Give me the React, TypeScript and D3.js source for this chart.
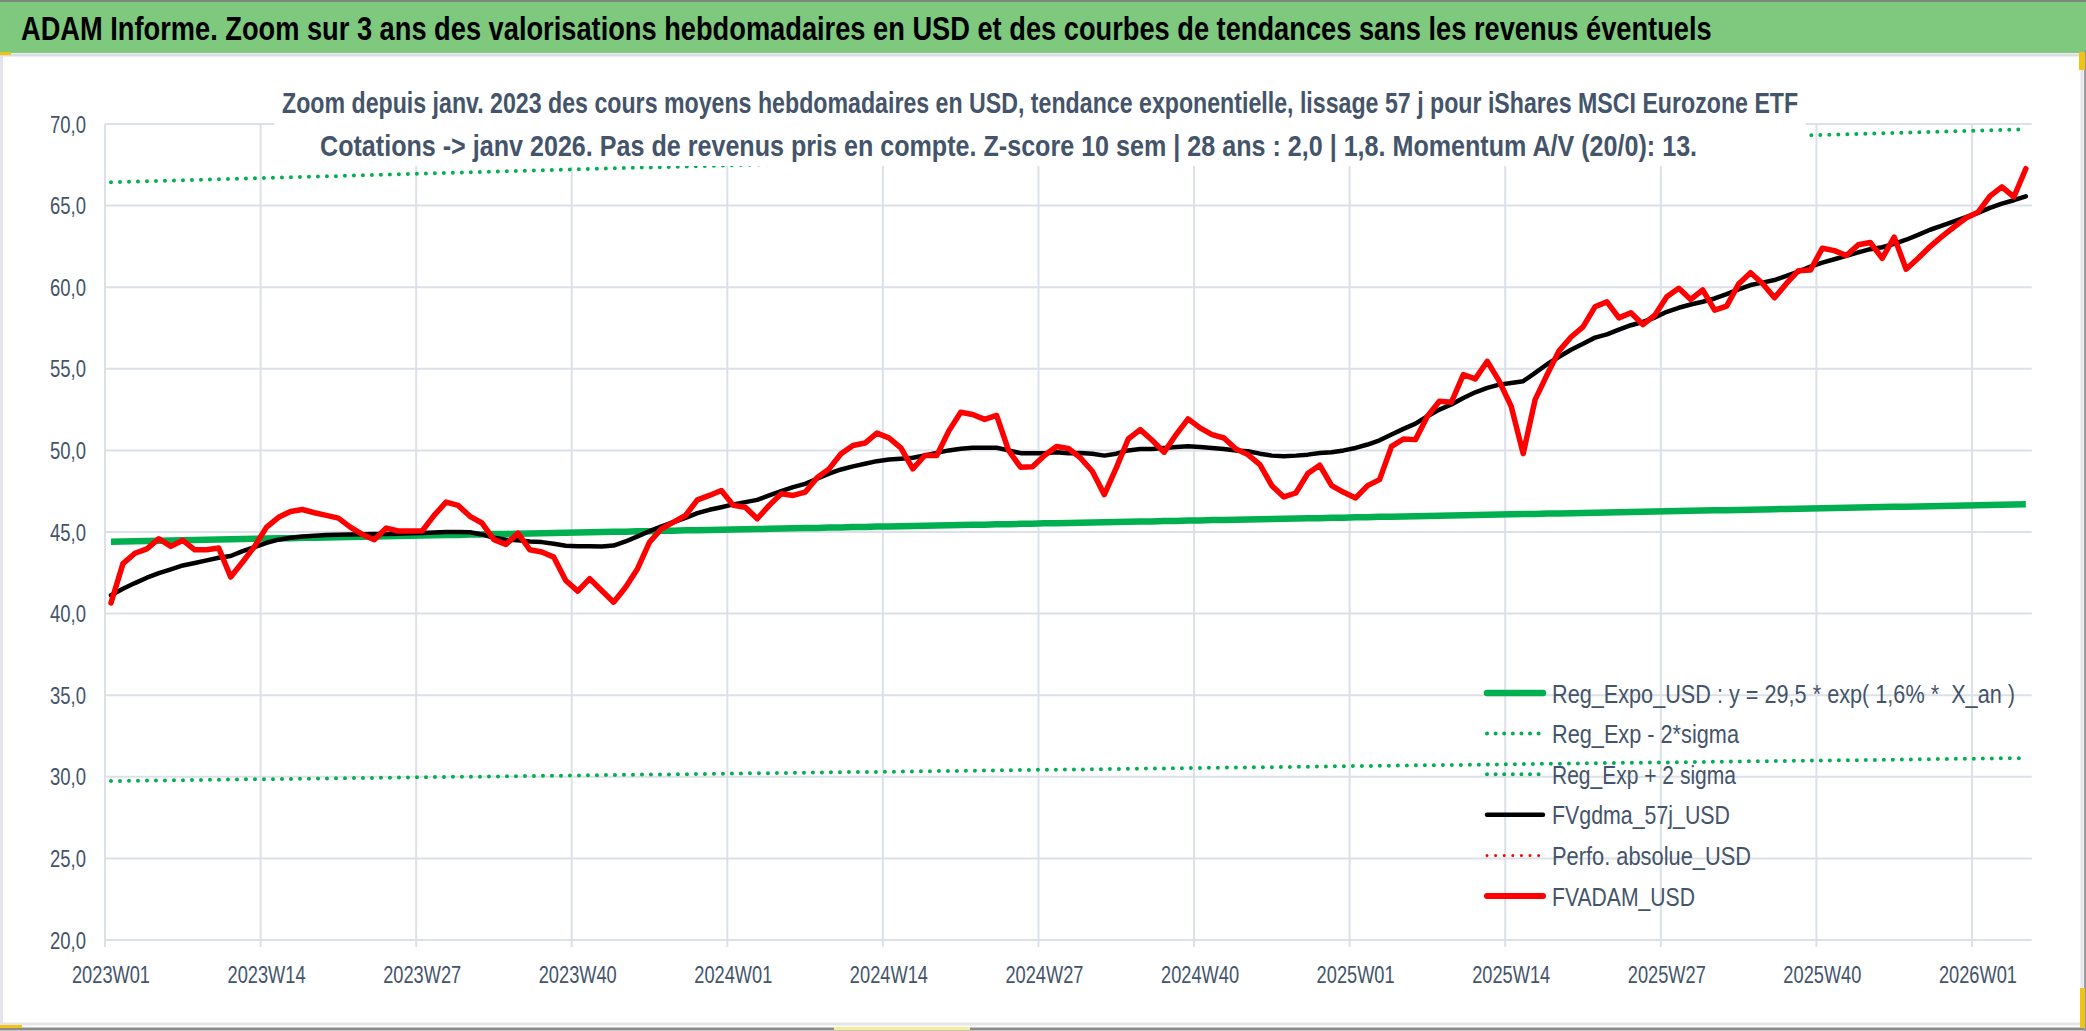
import React, { useLayoutEffect, useRef, useState } from 'react';
import * as d3 from 'd3';

const W = 2086;
const H = 1031;

// Categories (ISO weeks)
const years = [2023, 2024, 2025, 2026];
const weeksPerYear = [52, 52, 52, 5];
const categories: string[] = years.flatMap((y, k) =>
  d3.range(1, weeksPerYear[k] + 1).map((w) => `${y}W${String(w).padStart(2, '0')}`)
);
const tickLabels = [
  '2023W01', '2023W14', '2023W27', '2023W40', '2024W01', '2024W14', '2024W27',
  '2024W40', '2025W01', '2025W14', '2025W27', '2025W40', '2026W01',
];
const yTicks = [20, 25, 30, 35, 40, 45, 50, 55, 60, 65, 70];

// FVADAM_USD (red)
const fvadam = [
  40.65, 43.06, 43.7, 43.97, 44.59, 44.12, 44.49, 43.91, 43.91, 44.02,
  42.24, 43.16, 44.12, 45.3, 45.9, 46.26, 46.38, 46.18, 46.02, 45.85,
  45.3, 44.85, 44.53, 45.24, 45.06, 45.06, 45.06, 46.02, 46.83, 46.63,
  45.96, 45.55, 44.53, 44.24, 44.93, 43.91, 43.77, 43.46, 42.03, 41.38,
  42.14, 41.42, 40.7, 41.62, 42.75, 44.38, 45.2, 45.6, 46.01, 46.97,
  47.24, 47.54, 46.63, 46.52, 45.81, 46.63, 47.34, 47.24, 47.44, 48.32,
  48.87, 49.79, 50.3, 50.45, 51.06, 50.77, 50.16, 48.87, 49.69, 49.69,
  51.18, 52.34, 52.2, 51.9, 52.14, 50.0, 48.97, 49.0, 49.69, 50.24,
  50.12, 49.54, 48.72, 47.29, 48.93, 50.7, 51.27, 50.62, 49.89, 50.97,
  51.93, 51.38, 50.97, 50.76, 50.09, 49.74, 49.13, 47.84, 47.15, 47.39,
  48.58, 49.09, 47.84, 47.43, 47.09, 47.84, 48.21, 50.25, 50.7, 50.66,
  52.09, 53.01, 52.95, 54.64, 54.38, 55.46, 54.24, 52.7, 49.8, 53.11,
  54.64, 56.1, 56.95, 57.57, 58.8, 59.1, 58.12, 58.43, 57.71, 58.28,
  59.41, 59.93, 59.25, 59.83, 58.59, 58.84, 60.19, 60.89, 60.23, 59.35,
  60.23, 61.01, 61.05, 62.39, 62.24, 61.94, 62.6, 62.74, 61.77, 63.07,
  61.1, 61.77, 62.49, 63.11, 63.69, 64.24, 64.59, 65.58, 66.15, 65.53,
  67.26,
];

// FVgdma_57j_USD (black)
const fvgdma = [
  41.12, 41.52, 41.87, 42.2, 42.48, 42.71, 42.95, 43.1, 43.26, 43.42,
  43.53, 43.83, 44.08, 44.34, 44.53, 44.65, 44.73, 44.77, 44.81, 44.83,
  44.85, 44.86, 44.87, 44.88, 44.9, 44.92, 44.94, 44.97, 45.0, 45.0,
  44.98, 44.85, 44.65, 44.53, 44.49, 44.42, 44.38, 44.28, 44.16, 44.12,
  44.12, 44.11, 44.17, 44.42, 44.73, 45.05, 45.34, 45.6, 45.87, 46.16,
  46.36, 46.52, 46.69, 46.83, 46.97, 47.24, 47.5, 47.75, 47.95, 48.26,
  48.57, 48.83, 49.02, 49.18, 49.34, 49.44, 49.49, 49.55, 49.69, 49.85,
  50.0, 50.1, 50.16, 50.16, 50.16, 50.0, 49.83, 49.83, 49.83, 49.89,
  49.82, 49.84, 49.8, 49.68, 49.8, 50.0, 50.09, 50.09, 50.15, 50.21,
  50.25, 50.21, 50.15, 50.09, 50.0, 49.95, 49.8, 49.68, 49.64, 49.68,
  49.74, 49.84, 49.89, 50.0, 50.15, 50.36, 50.62, 50.97, 51.32, 51.64,
  52.09, 52.5, 52.81, 53.21, 53.56, 53.83, 54.03, 54.13, 54.24, 54.75,
  55.28, 55.74, 56.17, 56.54, 56.91, 57.11, 57.4, 57.67, 57.87, 58.14,
  58.49, 58.74, 58.94, 59.11, 59.31, 59.58, 59.87, 60.13, 60.28, 60.44,
  60.69, 60.95, 61.26, 61.51, 61.71, 61.92, 62.13, 62.33, 62.45, 62.66,
  62.91, 63.21, 63.52, 63.77, 64.03, 64.3, 64.55, 64.86, 65.12, 65.33,
  65.57,
];

// Reg_Expo_USD (green thick)
const regExpo = [
  44.41, 44.42, 44.44, 44.45, 44.47, 44.48, 44.5, 44.51, 44.52, 44.54,
  44.55, 44.57, 44.58, 44.6, 44.61, 44.62, 44.64, 44.65, 44.67, 44.68,
  44.7, 44.71, 44.72, 44.74, 44.75, 44.77, 44.78, 44.8, 44.81, 44.82,
  44.84, 44.85, 44.87, 44.88, 44.9, 44.91, 44.92, 44.94, 44.95, 44.97,
  44.98, 45.0, 45.01, 45.02, 45.04, 45.05, 45.07, 45.08, 45.1, 45.11,
  45.12, 45.14, 45.15, 45.17, 45.18, 45.2, 45.21, 45.23, 45.24, 45.25,
  45.27, 45.28, 45.3, 45.31, 45.33, 45.34, 45.35, 45.37, 45.38, 45.4,
  45.41, 45.43, 45.44, 45.45, 45.47, 45.48, 45.5, 45.51, 45.53, 45.54,
  45.55, 45.57, 45.58, 45.6, 45.61, 45.63, 45.64, 45.65, 45.67, 45.68,
  45.7, 45.71, 45.73, 45.74, 45.75, 45.77, 45.78, 45.8, 45.81, 45.83,
  45.84, 45.85, 45.87, 45.88, 45.9, 45.91, 45.93, 45.94, 45.95, 45.97,
  45.98, 46.0, 46.01, 46.03, 46.04, 46.05, 46.07, 46.08, 46.1, 46.11,
  46.13, 46.14, 46.15, 46.17, 46.18, 46.2, 46.21, 46.23, 46.24, 46.25,
  46.27, 46.28, 46.3, 46.31, 46.33, 46.34, 46.35, 46.37, 46.38, 46.4,
  46.41, 46.43, 46.44, 46.45, 46.47, 46.48, 46.5, 46.51, 46.53, 46.54,
  46.55, 46.57, 46.58, 46.6, 46.61, 46.63, 46.64, 46.65, 46.67, 46.68,
  46.7,
];

// Reg_Exp - 2*sigma (green dotted, lower)
const regMinus = [
  29.74, 29.75, 29.76, 29.77, 29.78, 29.78, 29.79, 29.8, 29.81, 29.82,
  29.83, 29.84, 29.85, 29.85, 29.86, 29.87, 29.88, 29.89, 29.9, 29.91,
  29.92, 29.92, 29.93, 29.94, 29.95, 29.96, 29.97, 29.98, 29.99, 30.0,
  30.0, 30.01, 30.02, 30.03, 30.04, 30.05, 30.06, 30.07, 30.07, 30.08,
  30.09, 30.1, 30.11, 30.12, 30.13, 30.14, 30.14, 30.15, 30.16, 30.17,
  30.18, 30.19, 30.2, 30.21, 30.22, 30.22, 30.23, 30.24, 30.25, 30.26,
  30.27, 30.28, 30.29, 30.29, 30.3, 30.31, 30.32, 30.33, 30.34, 30.35,
  30.36, 30.36, 30.37, 30.38, 30.39, 30.4, 30.41, 30.42, 30.43, 30.44,
  30.44, 30.45, 30.46, 30.47, 30.48, 30.49, 30.5, 30.51, 30.51, 30.52,
  30.53, 30.54, 30.55, 30.56, 30.57, 30.58, 30.58, 30.59, 30.6, 30.61,
  30.62, 30.63, 30.64, 30.65, 30.66, 30.66, 30.67, 30.68, 30.69, 30.7,
  30.71, 30.72, 30.73, 30.73, 30.74, 30.75, 30.76, 30.77, 30.78, 30.79,
  30.8, 30.8, 30.81, 30.82, 30.83, 30.84, 30.85, 30.86, 30.87, 30.88,
  30.88, 30.89, 30.9, 30.91, 30.92, 30.93, 30.94, 30.95, 30.95, 30.96,
  30.97, 30.98, 30.99, 31.0, 31.01, 31.02, 31.02, 31.03, 31.04, 31.05,
  31.06, 31.07, 31.08, 31.09, 31.1, 31.1, 31.11, 31.12, 31.13, 31.14,
  31.15,
];

// Reg_Exp + 2 sigma (green dotted, upper)
const regPlus = [
  66.43, 66.45, 66.47, 66.49, 66.51, 66.53, 66.55, 66.57, 66.59, 66.61,
  66.63, 66.65, 66.67, 66.69, 66.71, 66.73, 66.75, 66.77, 66.79, 66.81,
  66.84, 66.86, 66.88, 66.9, 66.92, 66.94, 66.96, 66.98, 67.0, 67.02,
  67.04, 67.06, 67.08, 67.1, 67.12, 67.14, 67.16, 67.18, 67.2, 67.22,
  67.24, 67.26, 67.28, 67.3, 67.32, 67.34, 67.36, 67.38, 67.4, 67.42,
  67.44, 67.46, 67.48, 67.5, 67.52, 67.54, 67.56, 67.58, 67.6, 67.62,
  67.65, 67.67, 67.69, 67.71, 67.73, 67.75, 67.77, 67.79, 67.81, 67.83,
  67.85, 67.87, 67.89, 67.91, 67.93, 67.95, 67.97, 67.99, 68.01, 68.03,
  68.05, 68.07, 68.09, 68.11, 68.13, 68.15, 68.17, 68.19, 68.21, 68.23,
  68.25, 68.27, 68.29, 68.31, 68.33, 68.35, 68.37, 68.39, 68.41, 68.43,
  68.46, 68.48, 68.5, 68.52, 68.54, 68.56, 68.58, 68.6, 68.62, 68.64,
  68.66, 68.68, 68.7, 68.72, 68.74, 68.76, 68.78, 68.8, 68.82, 68.84,
  68.86, 68.88, 68.9, 68.92, 68.94, 68.96, 68.98, 69.0, 69.02, 69.04,
  69.06, 69.08, 69.1, 69.12, 69.14, 69.16, 69.18, 69.2, 69.22, 69.24,
  69.27, 69.29, 69.31, 69.33, 69.35, 69.37, 69.39, 69.41, 69.43, 69.45,
  69.47, 69.49, 69.51, 69.53, 69.55, 69.57, 69.59, 69.61, 69.63, 69.65,
  69.67,
];

const title =
  'ADAM Informe. Zoom sur 3 ans des valorisations hebdomadaires en USD et des courbes de tendances sans les revenus éventuels';
const subtitle1 =
  'Zoom depuis janv. 2023 des cours moyens hebdomadaires en USD, tendance exponentielle, lissage 57 j pour iShares MSCI Eurozone ETF';
const subtitle2 =
  'Cotations -> janv 2026. Pas de revenus pris en compte. Z-score 10 sem | 28 ans : 2,0 | 1,8. Momentum A/V (20/0): 13.';

const legendItems = [
  { label: 'Reg_Expo_USD : y = 29,5 * exp( 1,6% *  X_an )', color: '#00B050', width: 6.5, dotted: false, len: 463 },
  { label: 'Reg_Exp - 2*sigma', color: '#00B050', width: 4, dotted: true, len: 187 },
  { label: 'Reg_Exp + 2 sigma', color: '#00B050', width: 4, dotted: true, len: 184 },
  { label: 'FVgdma_57j_USD', color: '#000000', width: 4.5, dotted: false, len: 178 },
  { label: 'Perfo. absolue_USD', color: '#FF0000', width: 3, dotted: true, len: 199 },
  { label: 'FVADAM_USD', color: '#FF0000', width: 6, dotted: false, len: 143 },
];

const FONT = "'Liberation Sans', Arial, sans-serif";
const TXT = '#44546A';
const GRID = '#DCE0E8';

// Text squeezed horizontally to a target width (condensed look of the original font)
function FitText(props: {
  x: number;
  y: number;
  len: number;
  anchor?: 'start' | 'middle' | 'end';
  size: number;
  weight?: string;
  fill: string;
  pre?: boolean;
  children: string;
}) {
  const ref = useRef<SVGTextElement>(null);
  const [sx, setSx] = useState(0.82);
  useLayoutEffect(() => {
    if (ref.current) {
      const n = ref.current.getComputedTextLength();
      if (n > 0) setSx(props.len / n);
    }
  }, [props.len, props.children, props.size]);
  return (
    <text
      ref={ref}
      transform={`translate(${props.x},${props.y}) scale(${sx},1)`}
      textAnchor={props.anchor || 'start'}
      fontSize={props.size}
      fontWeight={props.weight || 'normal'}
      fill={props.fill}
      style={props.pre ? { whiteSpace: 'pre' } : undefined}
    >
      {props.children}
    </text>
  );
}

export default function App() {
  const left = 105;
  const right = 2031.8;
  const top = 124;
  const bottom = 940;

  const x = d3.scaleBand<string>().domain(categories).range([left, right]).padding(0);
  const bw = x.bandwidth();
  const cx = (i: number) => (x(categories[i]) as number) + bw / 2;
  const y = d3.scaleLinear().domain([20, 70]).range([bottom, top]);

  const line = (vals: number[]) =>
    d3
      .line<number>()
      .x((_, i) => cx(i))
      .y((v) => y(v))(vals) as string;

  const legendTop = 693;
  const legendStep = 40.6;

  return (
    <svg
      width={W}
      height={H}
      viewBox={`0 0 ${W} ${H}`}
      style={{ position: 'absolute', left: 0, top: 0, display: 'block', background: '#fff' }}
      fontFamily={FONT}
    >
      <rect x={0} y={0} width={W} height={H} fill="#fff" />
      {/* title band */}
      <rect x={0} y={0} width={W} height={53} fill="#7EC97E" />
      <line x1={0} x2={W} y1={1} y2={1} stroke="#7a8a7a" strokeWidth={2} />
      <line x1={0} x2={W} y1={55} y2={55} stroke="#DADDE3" strokeWidth={3} />
      <FitText x={21} y={40} len={1690} size={33} weight="bold" fill="#000">
        {title}
      </FitText>

      {/* outer frame */}
      <line x1={1.5} x2={1.5} y1={56} y2={1026} stroke="#E3E5EA" strokeWidth={3} />
      <line x1={2082} x2={2082} y1={56} y2={1026} stroke="#E3E5EA" strokeWidth={3} />
      <line x1={0} x2={W} y1={1024} y2={1024} stroke="#E3E5EA" strokeWidth={3} />
      <line x1={0} x2={W} y1={1029} y2={1029} stroke="#8C8C8C" strokeWidth={3} />
      <line x1={2085} x2={2085} y1={50} y2={1031} stroke="#9A9A9A" strokeWidth={2} />
      <rect x={0} y={52} width={11} height={3} fill="#F2C314" />
      <rect x={2079} y={52} width={6} height={18} fill="#F2C314" />
      <rect x={2080} y={988} width={5} height={40} fill="#F2C314" />
      <rect x={0} y={1025} width={22} height={3} fill="#F2C314" />
      <rect x={834} y={1027} width={136} height={3} fill="#F7EC9A" />

      {/* gridlines */}
      {yTicks.map((t) => (
        <line key={`h${t}`} x1={left} x2={right} y1={y(t)} y2={y(t)} stroke={GRID} strokeWidth={2} />
      ))}
      {tickLabels.map((lab) => {
        const xx = x(lab) as number;
        return <line key={`v${lab}`} x1={xx} x2={xx} y1={top} y2={bottom + 7} stroke={GRID} strokeWidth={2} />;
      })}

      {/* y labels */}
      {yTicks.map((t) => (
        <FitText key={`yl${t}`} x={86} y={y(t) + 8.5} anchor="end" len={36} size={23.5} fill={TXT}>
          {d3.format('.1f')(t).replace('.', ',')}
        </FitText>
      ))}

      {/* x labels */}
      {tickLabels.map((lab) => (
        <FitText
          key={`xl${lab}`}
          x={(x(lab) as number) + bw / 2}
          y={983}
          anchor="middle"
          len={78}
          size={23}
          fill={TXT}
        >
          {lab}
        </FitText>
      ))}

      {/* series */}
      <path d={line(regExpo)} fill="none" stroke="#00B050" strokeWidth={6.5} strokeLinejoin="round" />
      <path
        d={line(regMinus)}
        fill="none"
        stroke="#00B050"
        strokeWidth={4}
        strokeDasharray="0 9"
        strokeLinecap="round"
      />
      <path
        d={line(regPlus)}
        fill="none"
        stroke="#00B050"
        strokeWidth={4}
        strokeDasharray="0 9"
        strokeLinecap="round"
      />
      <path d={line(fvgdma)} fill="none" stroke="#000" strokeWidth={4.5} strokeLinejoin="round" strokeLinecap="round" />
      <path d={line(fvadam)} fill="none" stroke="#FF0000" strokeWidth={5.5} strokeLinejoin="round" strokeLinecap="round" />

      {/* chart title box */}
      <rect x={274} y={64} width={1532} height={102} fill="#fff" />
      <FitText x={282} y={113} len={1516} size={30} weight="bold" fill={TXT}>
        {subtitle1}
      </FitText>
      <FitText x={320} y={156} len={1377} size={30} weight="bold" fill={TXT}>
        {subtitle2}
      </FitText>

      {/* legend */}
      {legendItems.map((it, k) => {
        const ly = legendTop + k * legendStep;
        return (
          <g key={it.label}>
            <line
              x1={1487}
              x2={1543}
              y1={ly}
              y2={ly}
              stroke={it.color}
              strokeWidth={it.width}
              strokeLinecap="round"
              strokeDasharray={it.dotted ? '0 8.6' : undefined}
            />
            <FitText x={1552} y={ly + 9.5} len={it.len} size={26} fill={TXT} pre>
              {it.label}
            </FitText>
          </g>
        );
      })}
    </svg>
  );
}
